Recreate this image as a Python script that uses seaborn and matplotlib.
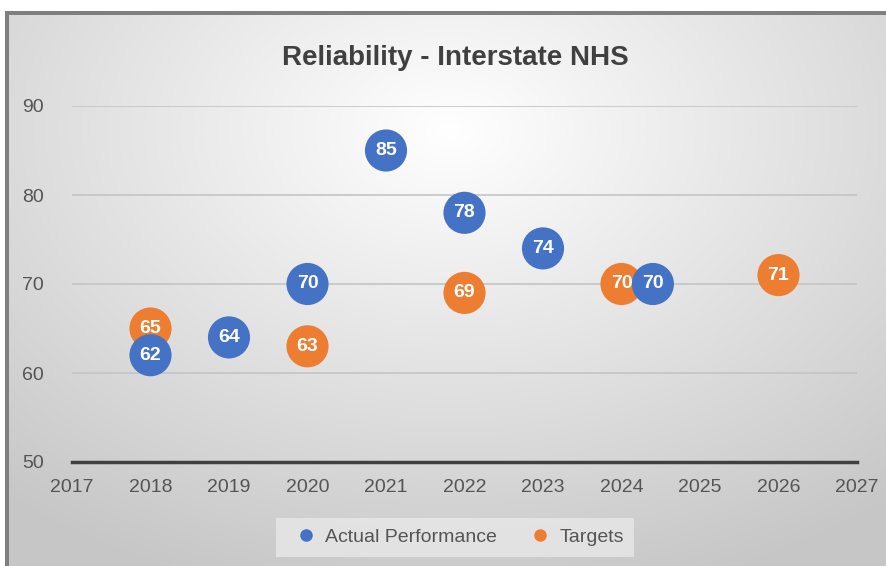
import numpy as np
import pandas as pd
import matplotlib
matplotlib.use('Agg')
import matplotlib.pyplot as plt
from matplotlib.lines import Line2D
import seaborn as sns

# Data
actual_years = [2018, 2019, 2020, 2021, 2022, 2023, 2024.4]
actual_values = [62, 64, 70, 85, 78, 74, 70]
target_years = [2018, 2020, 2022, 2024, 2026]
target_values = [65, 63, 69, 70, 71]
x_ticks = list(range(2017, 2028))
y_ticks = [50, 60, 70, 80, 90]

blue = '#4472C4'
orange = '#ED7D31'

sns.set_style('white')
plt.rcParams['font.family'] = ['Liberation Sans', 'DejaVu Sans']

df = pd.concat([
    pd.DataFrame({'Year': target_years, 'Value': target_values, 'Series': 'Targets'}),
    pd.DataFrame({'Year': actual_years, 'Value': actual_values, 'Series': 'Actual Performance'}),
], ignore_index=True)

fig = plt.figure(figsize=(8.86, 5.66), dpi=100)

# radial gradient background with frame
bg = fig.add_axes([0, 0, 1, 1], zorder=-10)
yy, xx = np.mgrid[0:566, 0:886]
r = np.sqrt(((xx - 450) / 750.0) ** 2 + ((yy - 130) / 520.0) ** 2)
shade = np.clip(1.0 - 0.24 * r, 0.78, 1.0)
img = np.dstack([shade, shade, shade])
img[:11, :] = 1.0
img[:, :5] = 1.0
img[11:15, 5:] = 0.5
img[11:, 5:9] = 0.5
bg.imshow(img, aspect='auto', extent=[0, 1, 0, 1], origin='upper')
bg.axis('off')

ax = fig.add_axes([72 / 886, 1 - 462 / 566, (857 - 72) / 886, (462 - 106) / 566])
ax.set_facecolor('none')

for name, color in [('Targets', orange), ('Actual Performance', blue)]:
    sub = df[df['Series'] == name]
    sns.scatterplot(data=sub, x='Year', y='Value', ax=ax, color=color, s=920,
                    edgecolor='none', legend=False, zorder=3, clip_on=False)
    for x, y in zip(sub['Year'], sub['Value']):
        ax.text(x, y, f'{y:g}', ha='center', va='center', color='white',
                fontsize=14, fontweight='bold', zorder=4)

ax.set_xlim(2017, 2027)
ax.set_ylim(50, 90)
ax.set_xticks(x_ticks)
ax.set_yticks(y_ticks)
ax.set_xlabel('')
ax.set_ylabel('')
for y in y_ticks[1:]:
    ax.axhline(y, color='#c4c4c4', lw=1.2, zorder=1)
for s in ['top', 'right', 'left']:
    ax.spines[s].set_visible(False)
ax.spines['bottom'].set_color('#404040')
ax.spines['bottom'].set_linewidth(2.5)
ax.tick_params(axis='x', direction='out', length=5, width=2, color='#404040',
               labelsize=14, labelcolor='#555555', pad=7)
ax.tick_params(axis='y', length=0, labelsize=14, labelcolor='#555555', pad=20)

fig.text(455 / 886, 1 - 58 / 566, 'Reliability - Interstate NHS', ha='center', va='center',
         fontsize=20, fontweight='bold', color='#404040')

handles = [Line2D([], [], marker='o', ls='', color=blue, markersize=8),
           Line2D([], [], marker='o', ls='', color=orange, markersize=8)]
leg = fig.legend(handles, ['Actual Performance', 'Targets'], loc='center',
                 bbox_to_anchor=(455 / 886, 1 - 537 / 566), ncol=2, frameon=True,
                 fontsize=14, handletextpad=0.0, columnspacing=1.2,
                 borderpad=0.55, borderaxespad=0, fancybox=False)
leg.get_frame().set_facecolor('#e8e8e8')
leg.get_frame().set_edgecolor('none')
leg.get_frame().set_alpha(0.8)
for t in leg.get_texts():
    t.set_color('#555555')

fig.savefig('out.png', dpi=100)
